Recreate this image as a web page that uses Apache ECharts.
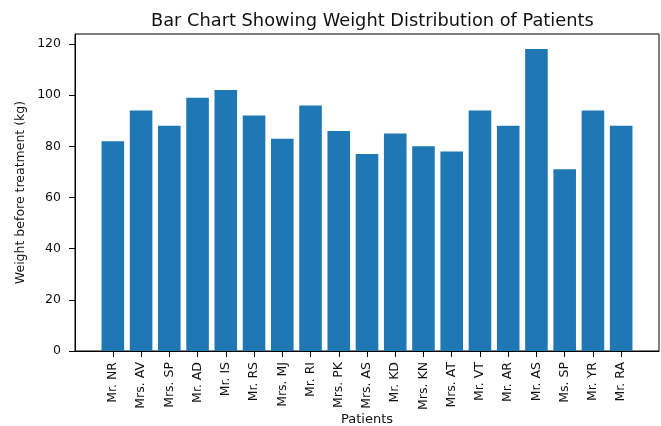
<!DOCTYPE html>
<html>
<head>
<meta charset="utf-8">
<script src="https://cdn.jsdelivr.net/npm/echarts@6/dist/echarts.min.js"></script>
<style>
  html, body { margin: 0; padding: 0; background: #fff; }
  #chart { width: 661px; height: 426px; }
</style>
</head>
<body>
<div id="chart"></div>
<script>
// Patients and their weight before treatment (kg)
const patients = ['Mr. NR', 'Mrs. AV', 'Mrs. SP', 'Mr. AD', 'Mr. IS', 'Mr. RS', 'Mrs. MJ', 'Mr. RI',
  'Mrs. PK', 'Mrs. AS', 'Mr. KD', 'Mrs. KN', 'Mrs. AT', 'Mr. VT', 'Mr. AR', 'Mr. AS', 'Ms. SP',
  'Mr. YR', 'Mr. RA'];
const weights = [82, 94, 88, 99, 102, 92, 83, 96, 86, 77, 85, 80, 78, 94, 88, 118, 71, 94, 88];
const yTicks = [0, 20, 40, 60, 80, 100, 120];

const positions = patients.map((_, i) => i);
const font = 'DejaVu Sans';
const ink = '#111';

const chart = echarts.init(document.getElementById('chart'), null, { renderer: 'canvas' });
chart.setOption({
  animation: false,
  backgroundColor: '#fff',
  title: {
    text: 'Bar Chart Showing Weight Distribution of Patients',
    left: 146, top: 7,
    textStyle: { fontFamily: font, fontSize: 17.8, fontWeight: 'normal', color: ink }
  },
  grid: {
    left: 75, top: 34, width: 584, height: 317,
    outerBoundsMode: 'none',
    show: true, borderColor: '#000', borderWidth: 1, containLabel: false
  },
  xAxis: {
    type: 'value',
    min: -1.34, max: 19.34,
    name: 'Patients',
    nameLocation: 'middle',
    nameGap: 62,
    nameMoveOverlap: false,
    nameTextStyle: { fontFamily: font, fontSize: 13, color: ink },
    splitLine: { show: false },
    axisLine: { show: true, onZero: false, lineStyle: { color: '#000', width: 1 } },
    axisTick: { show: true, customValues: positions, length: 6, lineStyle: { color: '#000' } },
    axisLabel: {
      customValues: positions,
      rotate: 90,
      margin: 11,
      fontFamily: font, fontSize: 12.5, color: ink,
      formatter: v => patients[Math.round(v)]
    }
  },
  yAxis: {
    type: 'value',
    min: 0, max: 123.9,
    name: 'Weight before treatment (kg)',
    nameLocation: 'middle',
    nameGap: 48,
    nameMoveOverlap: false,
    nameTextStyle: { fontFamily: font, fontSize: 12.5, color: ink },
    splitLine: { show: false },
    axisLine: { show: true, onZero: false, lineStyle: { color: '#000', width: 1 } },
    axisTick: { show: true, customValues: yTicks, length: 6, lineStyle: { color: '#000' } },
    axisLabel: {
      customValues: yTicks,
      margin: 14,
      fontFamily: font, fontSize: 12.5, color: ink
    }
  },
  series: [{
    type: 'bar',
    data: weights.map((w, i) => [i, w]),
    barWidth: '80%',
    itemStyle: { color: '#1f77b4' }
  }]
});
</script>
</body>
</html>
